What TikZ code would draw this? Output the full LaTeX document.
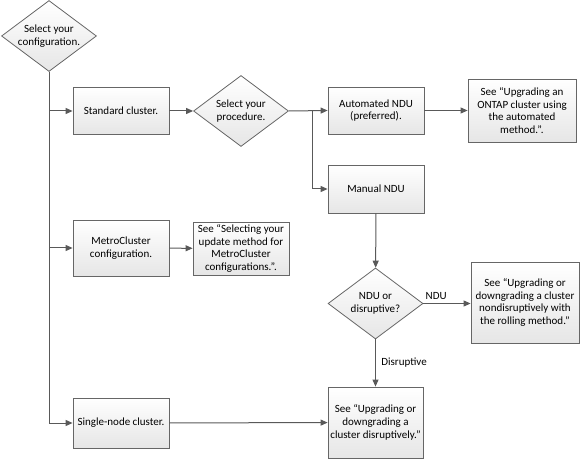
\documentclass[tikz,border=0pt]{standalone}
\usepackage{fontspec}
\setmainfont{Carlito}
\usetikzlibrary{shapes.geometric, arrows.meta, shadows}

\definecolor{linegray}{HTML}{595959}
\definecolor{boxborder}{HTML}{666666}
\definecolor{boxbottom}{HTML}{E6E6E6}

\tikzset{
  stepbox/.style={rectangle, draw=boxborder, top color=white, bottom color=boxbottom,
    align=center, inner sep=2pt, line width=0.8pt,
    drop shadow={shadow xshift=1pt, shadow yshift=-1pt, opacity=0.25}},
  choice/.style={diamond, draw=boxborder, top color=white, bottom color=boxbottom, aspect=1.34,
    align=center, inner sep=0pt, line width=0.8pt,
    minimum width=95pt, minimum height=71pt},
  flow/.style={draw=linegray, line width=1pt, -{Triangle[length=7pt, width=6pt]}},
  trunk/.style={draw=linegray, line width=1pt}
}

\begin{document}
\begin{tikzpicture}[x=1pt, y=-1pt, font=\fontsize{11}{12.8}\selectfont]
    \useasboundingbox (0,0) rectangle (581,462);

    % decisions
    \node[choice] (cfg) at (49,36) {Select your\\configuration.};
    \node[choice] (proc) at (241,111) {Select your\\procedure.};
    \node[choice] (ndu) at (375.5,303.5) {NDU or\\disruptive?};

    % boxes
    \node[stepbox, minimum width=96pt, minimum height=47pt] (std) at (121,111) {Standard cluster.};
    \node[stepbox, minimum width=96pt, minimum height=47pt] (auto) at (376,110.5) {Automated NDU\\(preferred).};
    \node[stepbox, minimum width=96pt, minimum height=48pt] (manual) at (376,189) {Manual NDU};
    \node[stepbox, minimum width=108pt, minimum height=63pt] (seeauto) at (522,110.5)
        {See “Upgrading an\\ONTAP cluster using\\the automated\\method.”.};
    \node[stepbox, minimum width=96pt, minimum height=56pt] (metro) at (121,248) {MetroCluster\\configuration.};
    \node[stepbox, minimum width=96pt, minimum height=53pt, inner sep=1pt] (seemetro) at (241,248.5)
        {See “Selecting your\\update method for\\MetroCluster\\configurations.”.};
    \node[stepbox, minimum width=96pt, minimum height=50pt] (single) at (121,423) {Single-node cluster.};
    \node[stepbox, minimum width=108pt, minimum height=81pt] (seerolling) at (525,302.5)
        {See “Upgrading or\\downgrading a cluster\\nondisruptively with\\the rolling method.”};
    \node[stepbox, minimum width=95pt, minimum height=71pt] (seedisrupt) at (375.5,422.5)
        {See “Upgrading or\\downgrading a\\cluster disruptively.”};

    \coordinate (split) at (312,111);

    % connectors
    \draw[trunk] (cfg.south) -- (cfg.south |- single.west);
    \draw[flow] (cfg.south) |- (std.west);
    \draw[flow] (cfg.south) |- (metro.west);
    \draw[flow] (cfg.south) |- (single.west);
    \draw[flow] (std) -- (proc);
    \draw[flow] (proc.east) -- (auto.west);
    \draw[flow] (split) |- (manual.west);
    \draw[flow] (auto) -- (seeauto);
    \draw[flow] (metro) -- (seemetro);
    \draw[flow] (manual) -- (ndu);
    \draw[flow] (ndu.east) -- node[above, pos=0.27] {NDU} (seerolling.west |- ndu.east);
    \draw[flow] (ndu) -- node[right, xshift=2pt] {Disruptive} (seedisrupt);
    \draw[flow] (single) -- (seedisrupt);
\end{tikzpicture}
\end{document}
